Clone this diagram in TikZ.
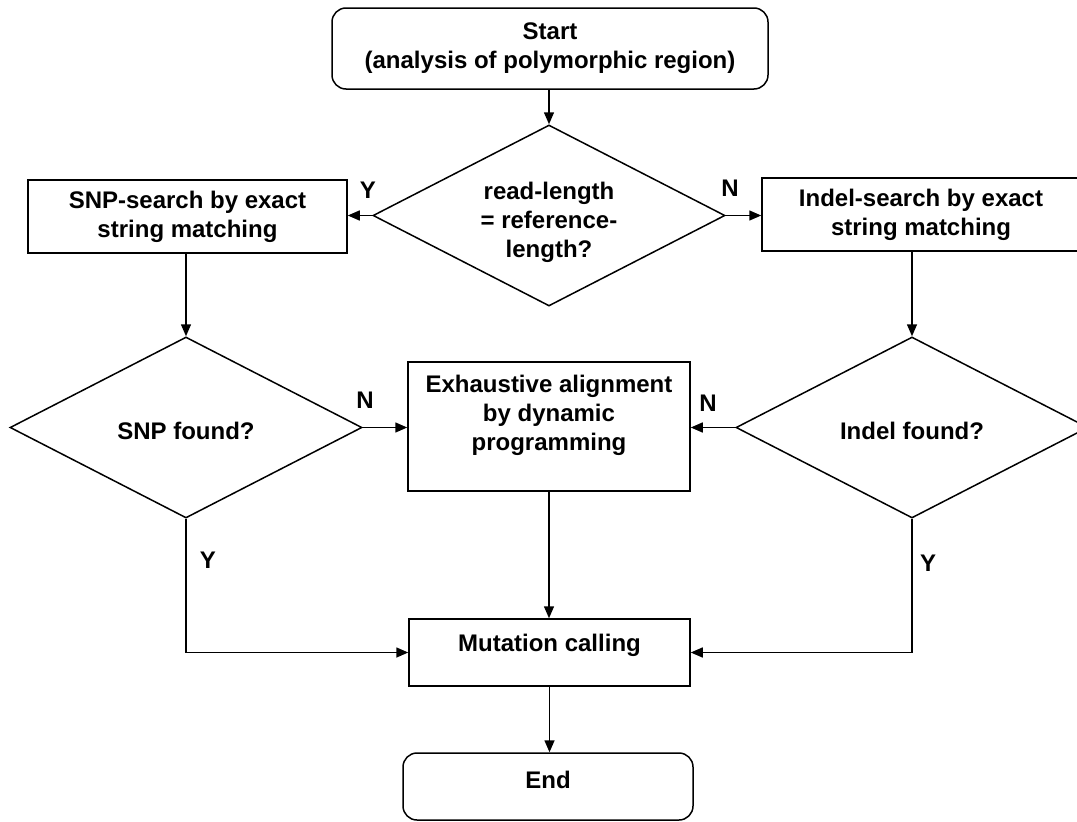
\documentclass[tikz,border=0pt]{standalone}
\usepackage{fontspec}
\setmainfont{Liberation Sans}
\usetikzlibrary{arrows.meta,shapes.geometric}
\begin{document}
\begin{tikzpicture}[x=1pt,y=-1pt,
  line width=1.5pt,
  box/.style={draw, rectangle, inner sep=0pt, align=center, font=\fontsize{24}{29}\selectfont\bfseries},
  term/.style={box, rounded corners=14pt},
  decision/.style={draw, diamond, inner sep=0pt, minimum width=352pt, minimum height=181pt},
  txt/.style={font=\fontsize{24}{29}\selectfont\bfseries, align=center, inner sep=0pt},
  arr/.style={-{Triangle[length=12pt,width=10pt]}},
]
\useasboundingbox (0,0) rectangle (1077,822);

% shapes
\node[term, minimum width=436pt, minimum height=81pt] (start) at (550,48.5) {Start\\(analysis of polymorphic region)};
\node[decision] (d1) at (549,215.5) {};
\node[txt] (t1) at (549,222) {read-length\\= reference-\\length?};
\node[box, minimum width=319pt, minimum height=73pt] (snp) at (187.5,216.5) {SNP-search by exact\\string matching};
\node[box, minimum width=318pt, minimum height=73pt] (indel) at (921,214.5) {Indel-search by exact\\string matching};
\node[decision] (d2) at (186,427.5) {};
\node[txt] (t2) at (186,431) {SNP found?};
\node[decision] (d3) at (912,427.5) {};
\node[txt] (t3) at (912,431) {Indel found?};
\node[box, minimum width=282pt, minimum height=129pt] (exh) at (549,426.5) {};
\node[txt] (t4) at (549,415) {Exhaustive alignment\\by dynamic\\programming};
\node[box, minimum width=281pt, minimum height=67pt] (mut) at (549.5,652.5) {};
\node[txt] (t5) at (549.5,645) {Mutation calling};
\node[term, minimum width=290pt, minimum height=67pt] (end) at (548,786.5) {};
\node[txt] (t6) at (548,780) {End};

% labels
\node[txt] (y1) at (368,190) {Y};
\node[txt] (n1) at (730,188) {N};
\node[txt] (n2) at (365,400) {N};
\node[txt] (n3) at (708,403) {N};
\node[txt] (y2) at (208,560) {Y};
\node[txt] (y3) at (928,563) {Y};

% connectors
\draw[arr] (start.south -| d1.north) -- (d1.north);
\draw[arr] (d1.west) -- (snp.east |- d1.west);
\draw[arr] (d1.east) -- (indel.west |- d1.east);
\draw[arr] (d2.north |- snp.south) -- (d2.north);
\draw[arr] (d3.north |- indel.south) -- (d3.north);
\draw[arr] (d2.east) -- (exh.west |- d2.east);
\draw[arr] (d3.west) -- (exh.east |- d3.west);
\draw[arr] (exh.south) -- (exh.south |- mut.north);
\draw[arr] (d2.south) |- (mut.west);
\draw[arr] (d3.south) |- (mut.east);
\draw[arr] (mut.south) -- (mut.south |- end.north);
\end{tikzpicture}
\end{document}
